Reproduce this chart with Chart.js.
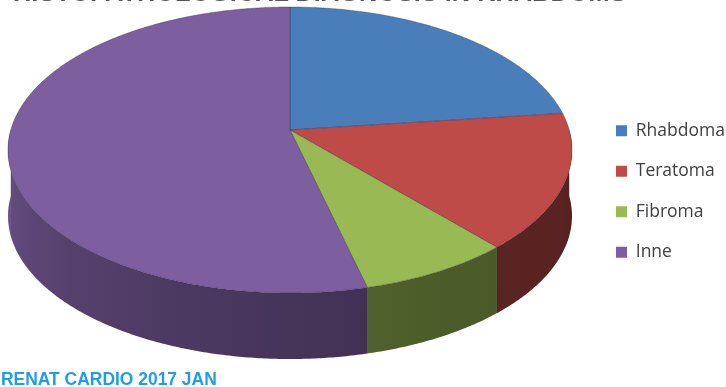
<!DOCTYPE html>
<html>
<head>
<meta charset="utf-8">
<script src="https://cdn.jsdelivr.net/npm/chart.js@4"></script>
<style>
  html, body { margin: 0; padding: 0; background: #fff; }
  #wrap { position: relative; width: 726px; height: 387px; overflow: hidden; }
  #wrap canvas { position: absolute; left: 0; top: 0; }
  .txt { position: absolute; white-space: nowrap; line-height: 1; font-family: "Liberation Sans", Arial, sans-serif; font-weight: bold; }
  #title { color: #555; }
  #source { color: #219ee3; }
</style>
</head>
<body>
<div id="wrap">
  <canvas id="grafico" width="726" height="387"></canvas>
  <div id="title" class="txt"></div>
  <div id="source" class="txt"></div>
</div>
<script>
const labels = ['Rhabdoma', 'Teratoma', 'Fibroma', 'Inne'];
const cases = [3, 2, 1, 7];
const topColors = ['#4a7ebb', '#be4b48', '#98b954', '#7d5fa0'];
const titleText = 'HISTOPATHOLOGICAL DIAGNOSIS IN RHABDOMS';
const sourceText = 'RENAT CARDIO 2017 JAN';

// how the flat pie is laid down in 3d
const view = { cx: 290, cy: 150, rx: 282, ry: 143, tilt: -0.14, depth: 66 };

function project(a, r, z) {
  const X = r * Math.cos(a), Y = r * Math.sin(a);
  const b = view.tilt;
  const d = 1 + b * Y;
  const u = X * Math.sqrt(1 - b * b) / d;
  const v = (Y + b) / d;
  return [view.cx + view.rx * u, view.cy + view.ry * v + z * view.depth];
}

function shade(hex, f) {
  const n = parseInt(hex.slice(1), 16);
  const r = Math.round(((n >> 16) & 255) * f);
  const g = Math.round(((n >> 8) & 255) * f);
  const b = Math.round((n & 255) * f);
  return 'rgb(' + r + ',' + g + ',' + b + ')';
}

function wallFactor(a) {
  const t = a / Math.PI;
  return 0.45 + 0.42 * t * t;
}

function wallGradient(ctx, color) {
  const x0 = project(Math.PI, 1, 0)[0], x1 = project(0, 1, 0)[0];
  const g = ctx.createLinearGradient(x0, 0, x1, 0);
  const n = 24;
  for (let k = n; k >= 0; k--) {
    const a = Math.PI * k / n;
    const pos = (project(a, 1, 0)[0] - x0) / (x1 - x0);
    g.addColorStop(Math.min(1, Math.max(0, pos)), shade(color, wallFactor(a)));
  }
  return g;
}

const pie3d = {
  id: 'pie3d',
  beforeDatasetsDraw(chart) {
    const ctx = chart.ctx;
    const arcs = chart.getDatasetMeta(0).data;
    const step = Math.PI / 360;
    ctx.save();

    // outer wall, front half only
    arcs.forEach((arc, i) => {
      const s = Math.max(arc.startAngle, 0);
      const e = Math.min(arc.endAngle, Math.PI);
      if (e <= s) return;
      ctx.beginPath();
      let p = project(s, 1, 0);
      ctx.moveTo(p[0], p[1]);
      for (let a = s; a < e; a += step) {
        p = project(a, 1, 0);
        ctx.lineTo(p[0], p[1]);
      }
      p = project(e, 1, 0);
      ctx.lineTo(p[0], p[1]);
      for (let a = e; a > s; a -= step) {
        p = project(a, 1, 1);
        ctx.lineTo(p[0], p[1]);
      }
      p = project(s, 1, 1);
      ctx.lineTo(p[0], p[1]);
      ctx.closePath();
      ctx.fillStyle = wallGradient(ctx, topColors[i]);
      ctx.fill();
      if (s > 0) {
        const q1 = project(s, 1, 0), q2 = project(s, 1, 1);
        ctx.beginPath();
        ctx.moveTo(q1[0], q1[1]);
        ctx.lineTo(q2[0], q2[1]);
        ctx.strokeStyle = 'rgba(0,0,0,0.25)';
        ctx.lineWidth = 1;
        ctx.stroke();
      }
    });

    // top faces
    arcs.forEach((arc, i) => {
      const c = project(0, 0, 0);
      ctx.beginPath();
      ctx.moveTo(c[0], c[1]);
      for (let a = arc.startAngle; a < arc.endAngle; a += step) {
        const p = project(a, 1, 0);
        ctx.lineTo(p[0], p[1]);
      }
      const pe = project(arc.endAngle, 1, 0);
      ctx.lineTo(pe[0], pe[1]);
      ctx.closePath();
      ctx.fillStyle = topColors[i];
      ctx.fill();
      ctx.strokeStyle = 'rgba(40,40,60,0.35)';
      ctx.lineWidth = 1;
      ctx.stroke();
    });

    ctx.restore();
    return false;
  }
};

new Chart(document.getElementById('grafico'), {
  type: 'pie',
  data: {
    labels: labels,
    datasets: [{
      data: cases,
      backgroundColor: topColors,
      borderWidth: 0
    }]
  },
  options: {
    responsive: false,
    animation: false,
    layout: { padding: { bottom: 4 } },
    plugins: {
      legend: {
        position: 'right',
        maxWidth: 133,
        labels: {
          boxWidth: 11,
          boxHeight: 11,
          padding: 23,
          color: '#404040',
          font: { family: 'Open Sans', size: 17.5 }
        }
      },
      tooltip: { enabled: false }
    }
  },
  plugins: [pie3d]
});

// texts fitted to the width they take in the picture
function fitText(el, text, left, width, baseline) {
  const ctx = document.createElement('canvas').getContext('2d');
  ctx.font = 'bold 100px "Liberation Sans"';
  const size = 100 * width / ctx.measureText(text).width;
  el.textContent = text;
  el.style.fontSize = size.toFixed(2) + 'px';
  el.style.left = left + 'px';
  el.style.top = (baseline - 0.8465 * size).toFixed(1) + 'px';
}
fitText(document.getElementById('title'), titleText, 13, 614, 1.5);
fitText(document.getElementById('source'), sourceText, 1, 216, 386);
</script>
</body>
</html>
